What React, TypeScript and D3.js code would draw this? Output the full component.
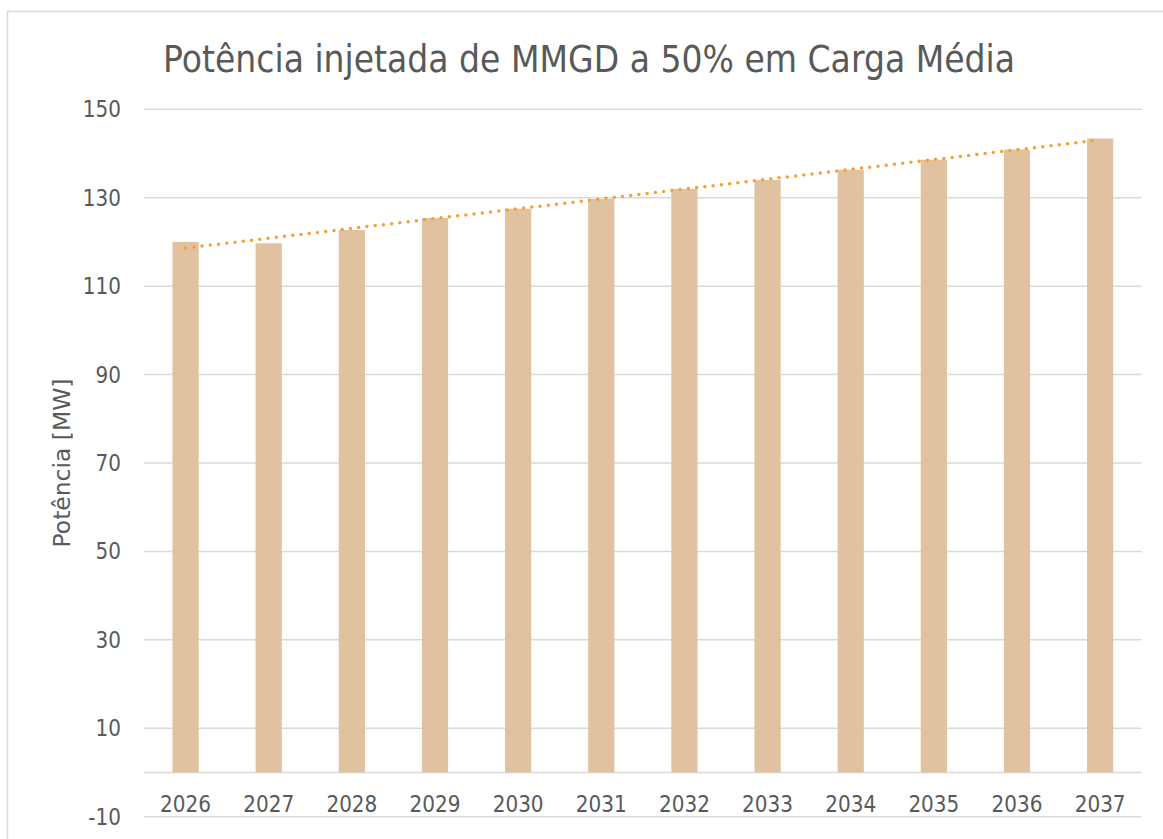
import React from "react";
import * as d3 from "d3";

const categories = ["2026","2027","2028","2029","2030","2031","2032","2033","2034","2035","2036","2037"];
const values = [120.0, 119.7, 122.7, 125.4, 127.5, 129.7, 132.0, 134.0, 136.3, 138.6, 140.9, 143.4];
const yTicks = [-10, 10, 30, 50, 70, 90, 110, 130, 150];

const W = 1163, H = 839;
const margin = { left: 144, right: 1141.7, top: 109.3, bottom: 816.7 };
const font = "Tahoma, 'DejaVu Sans', Verdana, sans-serif";
const textColor = "#595959";
const SX = 0.87;

function T({ x, y, anchor, size, children, rotate = 0 }: any) {
  return (
    <g transform={`translate(${x},${y}) rotate(${rotate}) scale(${SX},1)`}>
      <text x={0} y={0} dy="0.35em" textAnchor={anchor} fontFamily={font} fontSize={size} fill={textColor}>{children}</text>
    </g>
  );
}

export default function App() {
  const x = d3.scaleBand<string>().domain(categories).range([margin.left, margin.right]).paddingInner(0.685).paddingOuter(0.3425);
  const y = d3.scaleLinear().domain([-10, 150]).range([margin.bottom, margin.top]);

  const xs = values.map((_, i) => i + 1);
  const mx = d3.mean(xs)!;
  const my = d3.mean(values)!;
  const slope = d3.sum(xs.map((xi, i) => (xi - mx) * (values[i] - my))) / d3.sum(xs.map(xi => (xi - mx) ** 2));
  const intercept = my - slope * mx;
  const cx = (c: string) => x(c)! + x.bandwidth() / 2;
  const line = d3.line<number>().x((_, i) => cx(categories[i])).y((_, i) => y(intercept + slope * (i + 1)));

  return (
    <svg width={W} height={H} style={{ position: "absolute", left: 0, top: 0, background: "#fff" }}>
      <rect x={7.5} y={11.5} width={1160} height={840} fill="#fff" stroke="#D9D9D9" strokeWidth={1.5} />
      <text x={589} y={72} textAnchor="middle" fontFamily={font} fontSize={37} fill={textColor} textLength={852} lengthAdjust="spacingAndGlyphs">
        Potência injetada de MMGD a 50% em Carga Média
      </text>
      {yTicks.concat([0]).map(t => (
        <line key={"g" + t} x1={margin.left} x2={margin.right} y1={y(t)} y2={y(t)} stroke="#D9D9D9" strokeWidth={1.5} />
      ))}
      {yTicks.map(t => (
        <T key={"t" + t} x={121} y={y(t)} anchor="end" size={23}>{t}</T>
      ))}
      {categories.map((c, i) => (
        <rect key={c} x={x(c)} y={y(values[i])} width={x.bandwidth()} height={y(0) - y(values[i])} fill="#E0C1A0" />
      ))}
      {categories.map(c => (
        <T key={"x" + c} x={cx(c)} y={804} anchor="middle" size={23}>{c}</T>
      ))}
      <path d={line(values) || ""} fill="none" stroke="#F5A033" strokeWidth={3.5} strokeDasharray="0 8.3" strokeLinecap="round" />
      <text transform={`translate(62,463) rotate(-90)`} textAnchor="middle" dy="0.35em" fontFamily={font} fontSize={23} fill={textColor} textLength={169} lengthAdjust="spacingAndGlyphs">Potência [MW]</text>
    </svg>
  );
}
